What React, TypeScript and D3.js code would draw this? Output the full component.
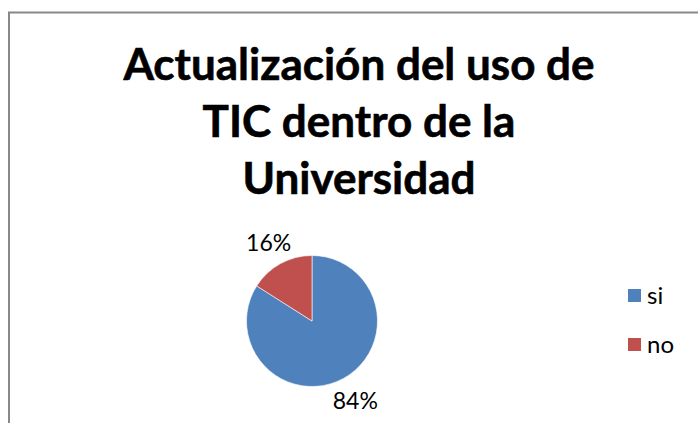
import React from "react";
import * as d3 from "d3";

const titleLines = ["Actualización del uso de", "TIC dentro de la", "Universidad"];
const categories = ["si", "no"];
const values = [84, 16];
const colors = ["#4F81BD", "#C0504D"];

const W = 698;
const H = 423;

export default function App() {
  const cx = 312;
  const cy = 321;
  const r = 65.5;
  const pie = d3.pie<number>().sort(null).value((d) => d)(values);
  const arc = d3.arc<d3.PieArcDatum<number>>().innerRadius(0).outerRadius(r);
  const labelArc = d3.arc<d3.PieArcDatum<number>>().innerRadius(90).outerRadius(90);
  const total = d3.sum(values);
  const font = "Lato, 'Open Sans', sans-serif";

  return (
    <svg
      width={W}
      height={H}
      style={{ position: "absolute", left: 0, top: 0, background: "#fff" }}
    >
      <rect x={0} y={0} width={W} height={H} fill="#fff" />
      <rect x={9} y={12.5} width={W + 20} height={H + 20} fill="#fff" stroke="#888" strokeWidth={2} />
      {titleLines.map((t, i) => (
        <text
          key={i}
          x={359}
          y={80 + i * 57}
          textAnchor="middle"
          fontFamily={font}
          fontWeight="bold"
          fontSize={44}
          fill="#000"
          stroke="#000"
          strokeWidth={0.6}
        >
          {t}
        </text>
      ))}
      <g transform={`translate(${cx},${cy})`}>
        {pie.map((p, i) => (
          <path key={i} d={arc(p) || ""} fill={colors[i]} stroke="#fff" strokeWidth={0.6} />
        ))}
        {pie.map((p, i) => {
          const [lx, ly] = labelArc.centroid(p);
          return (
            <text
              key={i}
              x={lx}
              y={ly}
              textAnchor="middle"
              dominantBaseline="central"
              fontFamily={font}
              fontSize={23}
              fill="#000"
            >
              {Math.round((values[i] / total) * 100) + "%"}
            </text>
          );
        })}
      </g>
      {categories.map((c, i) => (
        <g key={c} transform={`translate(628,${289 + i * 49})`}>
          <rect x={0} y={0} width={13} height={13} fill={colors[i]} />
          <text x={19} y={14.5} fontFamily={font} fontSize={24} fill="#000">
            {c}
          </text>
        </g>
      ))}
    </svg>
  );
}
